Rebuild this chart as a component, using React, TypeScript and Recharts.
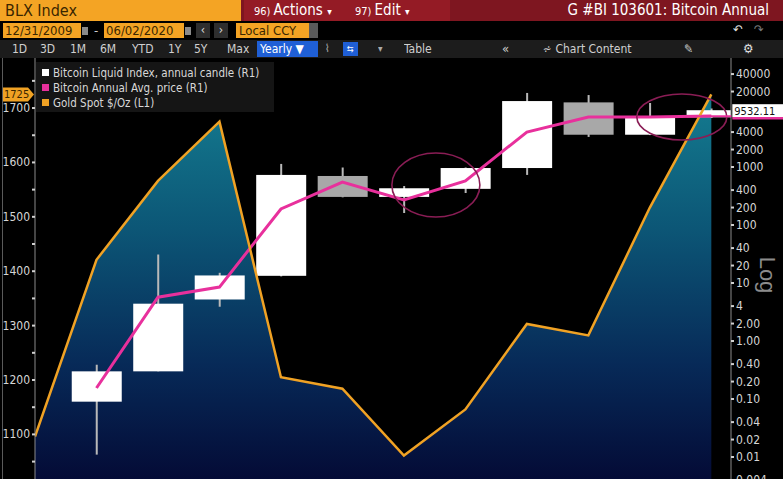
import React from 'react';
import { ComposedChart, Area, Bar, Line, XAxis, YAxis, ReferenceDot } from 'recharts';

// yearly points, 2009 holds only the gold close
const years = [2009, 2010, 2011, 2012, 2013, 2014, 2015, 2016, 2017, 2018, 2019, 2020];
const goldClose = [1096, 1421, 1566, 1675, 1205, 1184, 1061, 1146, 1303, 1282, 1517, 1725];
const btcOpen = [null, 0.09, 0.3, 5.2, 13.3, 700, 305, 420, 960, 13000, 3600, 7200];
const btcHigh = [null, 0.39, 31, 15, 1130, 980, 470, 980, 18900, 17400, 12700, 10200];
const btcLow = [null, 0.011, 0.3, 3.9, 13.0, 300, 161, 356, 730, 3300, 3550, 7000];
const btcClose = [null, 0.3, 4.4, 13.5, 730, 305, 430, 960, 13700, 3600, 7100, 9532.11];
const btcAvg = [null, 0.155, 5.7, 8.5, 189, 551, 270, 574, 4010, 7300, 7300, 7600];

const leftTicks = [1050, 1100, 1150, 1200, 1250, 1300, 1350, 1400, 1450, 1500, 1550, 1600, 1650, 1700, 1750];
const rightTicks = [40000, 20000, 4000, 2000, 1000, 400, 200, 100, 40, 20, 10, 4, 2, 1, 0.4, 0.2, 0.1, 0.04, 0.02, 0.01, 0.004];
const lastPrice = 9532.11;
const lastGold = 1725;
const highlights = [
  { year: 2015.52, value: 490 },
  { year: 2019.52, value: 7280 },
];

const legendItems = [
  { name: 'Bitcoin Liquid Index, annual candle (R1)', color: '#ffffff' },
  { name: 'Bitcoin Annual Avg. price (R1)', color: '#e8309c' },
  { name: 'Gold Spot $/Oz (L1)', color: '#f0a224' },
];

const periods = ['1D', '3D', '1M', '6M', 'YTD', '1Y', '5Y', 'Max'];

const data = years.map((year, i) => ({
  year,
  gold: goldClose[i],
  range: btcOpen[i] == null ? null : [btcLow[i], btcHigh[i]],
  open: btcOpen[i],
  high: btcHigh[i],
  low: btcLow[i],
  close: btcClose[i],
  avg: btcAvg[i],
}));

const FONT = '"Liberation Sans Narrow", "DejaVu Sans Condensed", "Liberation Sans", Arial, sans-serif';
const GOLD = '#f0a224';
const PINK = '#e8309c';

const fmtRight = (v: number) => (v >= 4 ? String(v) : v >= 0.01 ? v.toFixed(2) : v.toFixed(3));

const Candle = (props: any) => {
  const { x, y, width, height, payload } = props;
  if (!payload || payload.open == null || !height) return null;
  const lh = Math.log10(payload.high);
  const ll = Math.log10(payload.low);
  const py = (v: number) => y + (height * (lh - Math.log10(v))) / (lh - ll);
  const up = payload.close >= payload.open;
  const top = py(Math.max(payload.open, payload.close));
  const bot = py(Math.min(payload.open, payload.close));
  const cx = x + width / 2;
  return (
    <g>
      <line x1={cx} x2={cx} y1={y} y2={y + height} stroke="#b9b9b9" strokeWidth={2} />
      <rect x={x} y={top} width={width} height={Math.max(bot - top, 2)} fill={up ? '#ffffff' : '#a8a8a8'} />
    </g>
  );
};

const LeftTick = (props: any) => {
  const { x, y, payload } = props;
  if (payload.value % 100 !== 0) return null;
  return (
    <text x={x} y={y} dy={4} textAnchor="end" fill="#d6d6d6" fontSize={12} fontFamily={FONT}>
      {payload.value}
    </text>
  );
};

const RightTick = (props: any) => {
  const { x, y, payload } = props;
  return (
    <text x={x} y={y} dy={4} textAnchor="start" fill="#d6d6d6" fontSize={12} fontFamily={FONT}>
      {fmtRight(payload.value)}
    </text>
  );
};

const Ellipse = (props: any) => (
  <ellipse cx={props.cx} cy={props.cy} rx={props.rx} ry={props.ry} fill="none" stroke="#8a1d55" strokeWidth={1.6} />
);

const PriceTag = (props: any) => {
  const { cx, cy } = props;
  return (
    <g>
      <line x1={cx - 20} x2={cx + 20} y1={cy + 6} y2={cy + 6} stroke={PINK} strokeWidth={2} />
      <rect x={cx + 21} y={cy - 6} width={51} height={13} fill="#ffffff" />
      <line x1={cx + 21} x2={cx + 72} y1={cy + 8} y2={cy + 8} stroke={PINK} strokeWidth={2.5} />
      <text x={cx + 23} y={cy + 5} fontSize={11} fill="#111" fontFamily={FONT}>
        {lastPrice.toFixed(2)}
      </text>
    </g>
  );
};

const GoldTag = (props: any) => {
  const { cx, cy } = props;
  return (
    <g>
      <polygon
        points={`${cx - 33},${cy - 7} ${cx - 7},${cy - 7} ${cx - 1},${cy} ${cx - 7},${cy + 7} ${cx - 33},${cy + 7}`}
        fill={GOLD}
      />
      <text x={cx - 31} y={cy + 4} fontSize={11} fill="#3b2600" fontFamily={FONT}>
        {lastGold}
      </text>
    </g>
  );
};

const Box: React.FC<{ l: number; t: number; w: number; h: number; bg: string; children?: React.ReactNode; style?: React.CSSProperties }> = ({ l, t, w, h, bg, children, style }) => (
  <div style={{ position: 'absolute', left: l, top: t, width: w, height: h, background: bg, lineHeight: `${h}px`, whiteSpace: 'nowrap', overflow: 'hidden', ...style }}>
    {children}
  </div>
);

export default function App() {
  const periodX = [12, 40, 70, 100, 132, 168, 194, 227];
  return (
    <div style={{ position: 'absolute', left: 0, top: 0, width: 783, height: 479, background: '#000', overflow: 'hidden', fontFamily: FONT }}>
      {/* row 1 */}
      <Box l={0} t={0} w={241} h={21} bg="#f4a424" style={{ color: '#3a2600', fontSize: 16, paddingLeft: 5 }}>BLX Index</Box>
      <Box l={241} t={0} w={542} h={21} bg="#7e1620" />
      <Box l={244} t={0} w={94} h={21} bg="#941b25" style={{ color: '#fff', fontSize: 15, paddingLeft: 10 }}>
        <span style={{ fontSize: 11 }}>96) </span>Actions <span style={{ fontSize: 10 }}>▾</span>
      </Box>
      <Box l={341} t={0} w={95} h={21} bg="#941b25" style={{ color: '#fff', fontSize: 15, paddingLeft: 14 }}>
        <span style={{ fontSize: 11 }}>97) </span>Edit <span style={{ fontSize: 10 }}>▾</span>
      </Box>
      <Box l={540} t={0} w={229} h={21} bg="transparent" style={{ color: '#fff', fontSize: 15, textAlign: 'right' }}>G #BI 103601: Bitcoin Annual</Box>

      {/* row 2 */}
      <Box l={3} t={23} w={76} h={15} bg="#f4a424" style={{ color: '#3a2600', fontSize: 13, paddingLeft: 2 }}>12/31/2009</Box>
      <Box l={82} t={27} w={6} h={8} bg="#8a8a8a" />
      <Box l={94} t={23} w={6} h={15} bg="transparent" style={{ color: '#ccc', fontSize: 13 }}>-</Box>
      <Box l={104} t={23} w={78} h={15} bg="#f4a424" style={{ color: '#3a2600', fontSize: 13, paddingLeft: 2 }}>06/02/2020</Box>
      <Box l={185} t={27} w={6} h={8} bg="#8a8a8a" />
      <Box l={196} t={23} w={14} h={15} bg="#2e2e2e" style={{ color: '#ddd', fontSize: 12, textAlign: 'center' }}>‹</Box>
      <Box l={214} t={23} w={14} h={15} bg="#2e2e2e" style={{ color: '#ddd', fontSize: 12, textAlign: 'center' }}>›</Box>
      <Box l={236} t={23} w={70} h={15} bg="#f4a424" style={{ color: '#3a2600', fontSize: 13, paddingLeft: 3 }}>Local CCY</Box>
      <Box l={309} t={23} w={9} h={15} bg="#5a5a5a" />
      <Box l={733} t={22} w={12} h={16} bg="transparent" style={{ color: '#ddd', fontSize: 13 }}>↶</Box>
      <Box l={754} t={22} w={12} h={16} bg="transparent" style={{ color: '#777', fontSize: 13 }}>↷</Box>

      {/* row 3 */}
      <Box l={0} t={40} w={783} h={18} bg="#1c1c1c" />
      {periods.map((p, i) => (
        <Box key={p} l={periodX[i]} t={40} w={30} h={18} bg="transparent" style={{ color: '#cfcfcf', fontSize: 12 }}>{p}</Box>
      ))}
      <Box l={257} t={41} w={58} h={16} bg="#1f5fd6" style={{ color: '#fff', fontSize: 12, paddingLeft: 3 }}>Yearly ▼</Box>
      <Box l={325} t={40} w={14} h={18} bg="transparent" style={{ color: '#aaa', fontSize: 11 }}>⌇</Box>
      <Box l={343} t={42} w={15} h={14} bg="#1f5fd6" style={{ color: '#fff', fontSize: 9, textAlign: 'center' }}>⇆</Box>
      <Box l={378} t={40} w={8} h={18} bg="transparent" style={{ color: '#aaa', fontSize: 10 }}>▾</Box>
      <Box l={404} t={40} w={40} h={18} bg="transparent" style={{ color: '#cfcfcf', fontSize: 12 }}>Table</Box>
      <Box l={502} t={40} w={14} h={18} bg="transparent" style={{ color: '#cfcfcf', fontSize: 13 }}>«</Box>
      <Box l={543} t={40} w={100} h={18} bg="transparent" style={{ color: '#cfcfcf', fontSize: 12 }}>⩫ Chart Content</Box>
      <Box l={684} t={40} w={14} h={18} bg="transparent" style={{ color: '#cfcfcf', fontSize: 12 }}>✎</Box>
      <Box l={743} t={40} w={14} h={18} bg="transparent" style={{ color: '#e0e0e0', fontSize: 13 }}>⚙</Box>

      {/* chart */}
      <div style={{ position: 'absolute', left: 0, top: 0 }}>
        <ComposedChart width={783} height={479} data={data} margin={{ top: 58, right: 0, bottom: 0, left: 0 }}>
          <defs>
            <linearGradient id="goldFill" x1="0" y1="0" x2="0" y2="1">
              <stop offset="0%" stopColor="#147c90" />
              <stop offset="35%" stopColor="#0c5676" />
              <stop offset="70%" stopColor="#072a58" />
              <stop offset="100%" stopColor="#040b36" />
            </linearGradient>
          </defs>
          <XAxis dataKey="year" type="number" domain={[2009, 2020.32]} allowDataOverflow hide />
          <YAxis
            yAxisId="left"
            orientation="left"
            width={35}
            domain={[1018, 1792]}
            allowDataOverflow
            ticks={leftTicks}
            interval={0}
            tick={<LeftTick />}
            tickSize={3}
            tickMargin={2}
            axisLine={{ stroke: '#8a8a8a' }}
            tickLine={{ stroke: '#d0d0d0', strokeWidth: 2 }}
          />
          <YAxis
            yAxisId="right"
            orientation="right"
            width={52}
            scale="log"
            domain={[0.00418, 75700]}
            allowDataOverflow
            ticks={rightTicks}
            interval={0}
            tick={<RightTick />}
            tickSize={3}
            tickMargin={2}
            axisLine={{ stroke: '#8a8a8a' }}
            tickLine={{ stroke: '#d0d0d0', strokeWidth: 2 }}
          />
          <Area yAxisId="left" dataKey="gold" type="linear" stroke="none" fill="url(#goldFill)" fillOpacity={1} isAnimationActive={false} />
          <Bar yAxisId="right" dataKey="range" barSize={50} shape={<Candle />} isAnimationActive={false} />
          <Line yAxisId="right" dataKey="avg" type="linear" stroke={PINK} strokeWidth={3} dot={false} connectNulls isAnimationActive={false} />
          <Line yAxisId="left" dataKey="gold" type="linear" stroke={GOLD} strokeWidth={2.5} dot={false} isAnimationActive={false} />
          {highlights.map((h, i) => (
            <ReferenceDot
              key={i}
              yAxisId="right"
              x={h.year}
              y={h.value}
              r={1}
              shape={(p: any) => <Ellipse {...p} rx={i === 0 ? 44 : 45} ry={i === 0 ? 32 : 23} />}
            />
          ))}
          <ReferenceDot yAxisId="right" x={2020} y={lastPrice} r={1} shape={(p: any) => <PriceTag {...p} />} />
          <ReferenceDot yAxisId="left" x={2009} y={lastGold} r={1} shape={(p: any) => <GoldTag {...p} />} />
        </ComposedChart>
      </div>

      {/* left edge rule */}
      <Box l={2} t={58} w={1} h={421} bg="#5a5a5a" />

      {/* legend */}
      <div style={{ position: 'absolute', left: 36, top: 62, width: 238, height: 50, background: '#151515', paddingTop: 3, boxSizing: 'border-box' }}>
        {legendItems.map((it) => (
          <div key={it.name} style={{ display: 'flex', alignItems: 'center', height: 15, paddingLeft: 6, color: '#d8d8d8', fontSize: 11.5, whiteSpace: 'nowrap' }}>
            <div style={{ width: 7, height: 7, background: it.color, marginRight: 4, flexShrink: 0 }} />
            <span>{it.name}</span>
          </div>
        ))}
      </div>

      {/* Log label */}
      <div style={{ position: 'absolute', left: 749, top: 262, color: '#8c8c8c', fontSize: 22, transform: 'rotate(90deg)', transformOrigin: 'center', fontFamily: '"Liberation Sans", Arial, sans-serif' }}>
        Log
      </div>
    </div>
  );
}
